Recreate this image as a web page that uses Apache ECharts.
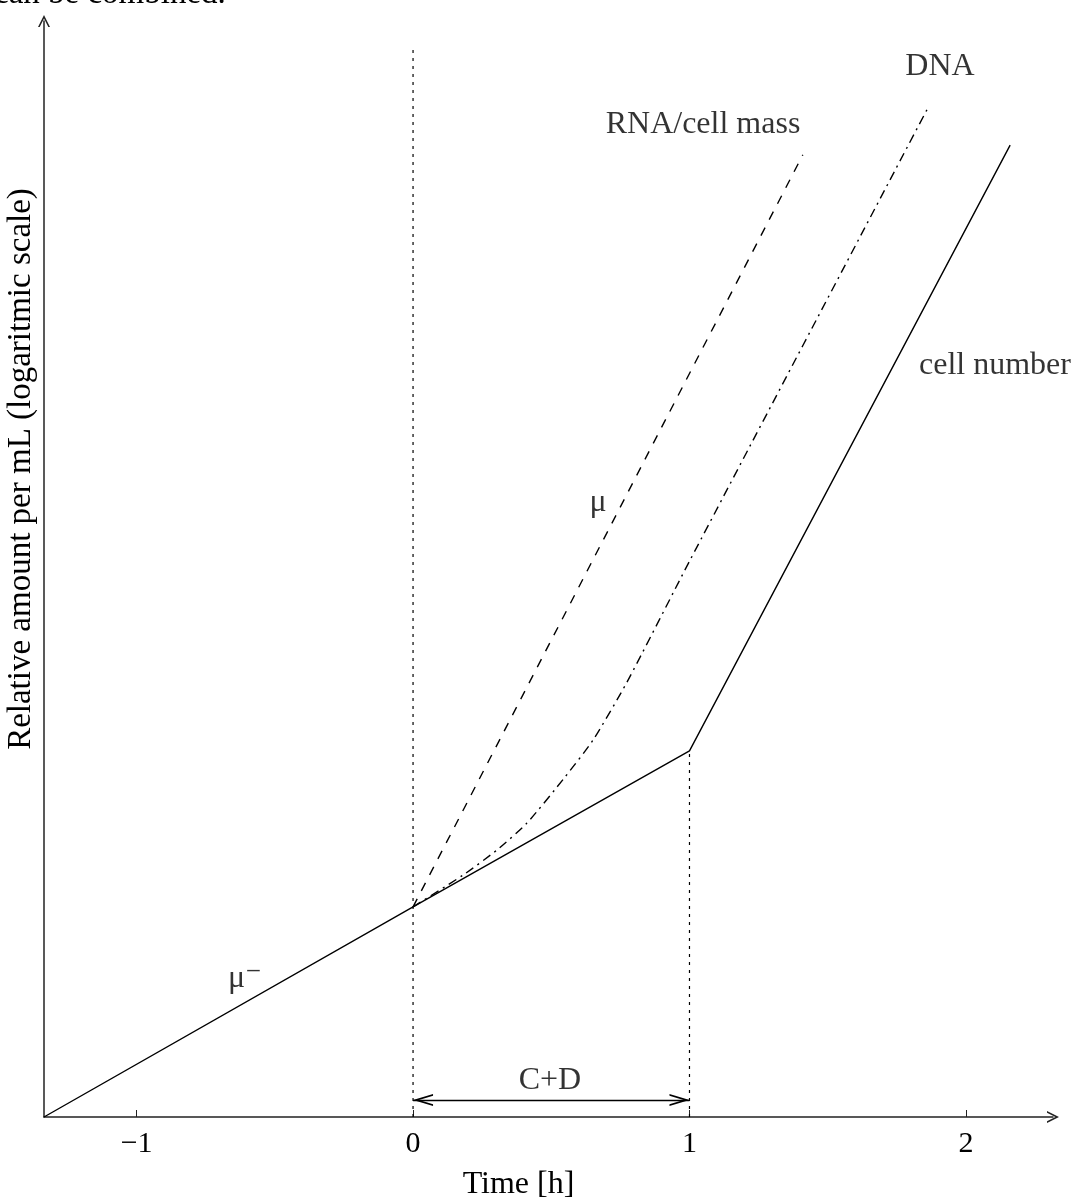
<!DOCTYPE html>
<html>
<head>
<meta charset="utf-8">
<script src="https://cdn.jsdelivr.net/npm/echarts@6/dist/echarts.min.js"></script>
<style>
  html, body { margin: 0; padding: 0; background: #fff; }
  #chart { width: 1089px; height: 1198px; }
</style>
</head>
<body>
<div id="chart"></div>
<script>
// time in hours, level in log units (same scale per unit as time)
const tickValues = [-1, 0, 1, 2];

const cellTime = [-1.335, 0, 1, 2.16];
const cellLevel = [0, 0.76, 1.324, 3.515];

const rnaTime = [0, 1.41];
const rnaLevel = [0.76, 3.48];

const dnaTime = [0, 0.181, 0.304, 0.412, 0.55, 0.651, 0.774, 1.002, 1.86];
const dnaLevel = [0.76, 0.875, 0.966, 1.063, 1.23, 1.363, 1.573, 2.014, 3.645];

const shiftTime = [0, 1];            // C+D span
const shiftTop = [3.86, 1.324];      // top of the dotted guides
const cdLevel = 0.0615;

// annotation anchors [time, level, text]
const notes = [
  [1.049, 3.588, 'RNA/cell mass'],
  [1.906, 3.80, 'DNA'],
  [2.105, 2.716, 'cell number'],
  [0.669, 2.221, 'μ'],
  [-0.608, 0.5, 'μ⁻'],
  [0.495, 0.13, 'C+D']
];

const zip = (a, b) => a.map((v, i) => [v, b[i]]);
const serif = '"Liberation Serif", "DejaVu Serif", serif';
const chevron = 'path://M5,0L10,10L8.6,10L5,3L1.4,10L0,10Z';

const chart = echarts.init(document.getElementById('chart'));
chart.setOption({
  animation: false,
  backgroundColor: '#fff',
  grid: { left: 44, right: 36, top: 21, bottom: 81, outerBoundsMode: 'none', containLabel: false },
  graphic: [{
    type: 'text', left: -6, top: -22,
    style: { text: 'can be combined.', font: '33px ' + serif, fill: '#000' }
  }],
  xAxis: {
    type: 'value', min: -1.335, max: 2.315,
    name: 'Time [h]', nameLocation: 'middle', nameGap: 52,
    nameTextStyle: { fontFamily: serif, fontSize: 32, color: '#000', padding: [0, 60, 0, 0] },
    splitLine: { show: false },
    axisLine: { onZero: false, lineStyle: { color: '#222', width: 1.5 }, symbol: ['none', chevron], symbolSize: [12, 20] },
    axisTick: { show: true, inside: true, length: 7, lineStyle: { color: '#222' }, customValues: tickValues },
    axisLabel: { fontFamily: serif, fontSize: 30, color: '#000', margin: 12, customValues: tickValues,
      formatter: v => (v < 0 ? '\u2212' + Math.abs(v) : String(v)) }
  },
  yAxis: {
    type: 'value', min: 0, max: 3.964,
    name: 'Relative amount per mL (logaritmic scale)', nameLocation: 'middle', nameGap: 6,
    nameTextStyle: { fontFamily: serif, fontSize: 33, color: '#000', padding: [0, 0, 0, 200] },
    splitLine: { show: false },
    axisLine: { onZero: false, lineStyle: { color: '#222', width: 1.5 }, symbol: ['none', chevron], symbolSize: [12, 18] },
    axisTick: { show: false },
    axisLabel: { show: false }
  },
  series: [
    {
      type: 'line', name: 'cell number', data: zip(cellTime, cellLevel), showSymbol: false,
      lineStyle: { color: '#000', width: 1.4 }
    },
    {
      type: 'line', name: 'RNA/cell mass', data: zip(rnaTime, rnaLevel), showSymbol: false,
      lineStyle: { color: '#000', width: 1.4, type: [9, 9] }
    },
    {
      type: 'line', name: 'DNA', data: zip(dnaTime, dnaLevel), showSymbol: false, smooth: 0.2,
      lineStyle: { color: '#000', width: 1.4, type: [9, 5, 2, 5] }
    },
    {
      type: 'line', name: 'guide0', data: [[shiftTime[0], 0], [shiftTime[0], shiftTop[0]]], showSymbol: false,
      lineStyle: { color: '#000', width: 1.2, type: [3, 5] }
    },
    {
      type: 'line', name: 'guide1', data: [[shiftTime[1], 0], [shiftTime[1], shiftTop[1]]], showSymbol: false,
      lineStyle: { color: '#000', width: 1.2, type: [3, 5] },
      markLine: {
        silent: true, symbol: [chevron, chevron], symbolSize: [12, 20], symbolOffset: [[0, 10], [0, 10]],
        label: { show: false },
        lineStyle: { color: '#000', width: 1.4, type: 'solid' },
        data: [[{ coord: [shiftTime[0], cdLevel] }, { coord: [shiftTime[1], cdLevel] }]]
      }
    },
    {
      type: 'scatter', name: 'notes', data: notes, symbolSize: 0,
      label: {
        show: true, position: 'inside', formatter: p => p.data[2],
        fontFamily: serif, fontSize: 32, color: '#000'
      }
    }
  ]
});
</script>
</body>
</html>
